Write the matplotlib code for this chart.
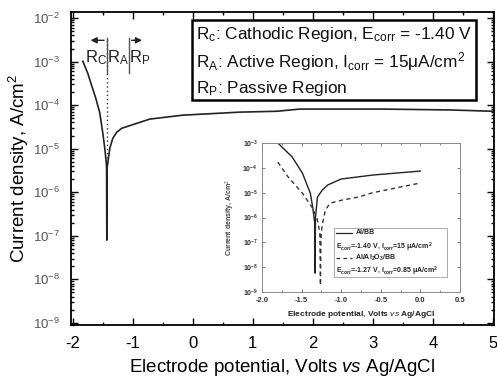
import numpy as np
import matplotlib
matplotlib.use("Agg")
import matplotlib.pyplot as plt
from matplotlib.patches import Rectangle
from matplotlib.lines import Line2D
from matplotlib.ticker import FixedLocator, FixedFormatter, MultipleLocator, LogLocator, NullFormatter

plt.rcParams['font.family'] = ['Liberation Sans', 'DejaVu Sans']
plt.rcParams['mathtext.fontset'] = 'custom'
plt.rcParams['mathtext.rm'] = 'Liberation Sans'
plt.rcParams['mathtext.it'] = 'Liberation Sans:italic'
plt.rcParams['mathtext.bf'] = 'Liberation Sans:bold'
plt.rcParams['axes.unicode_minus'] = False

# ---- main curve (potential V, log10 current density A/cm2) ----
main_E = [-1.833, -1.75, -1.683, -1.617, -1.55, -1.50, -1.467, -1.442, -1.437, -1.433,
          -1.429, -1.417, -1.383, -1.333, -1.267, -1.183, -1.05, -0.717, -0.167,
          0.783, 1.40, 1.783, 3.167, 4.283, 5.0]
main_logi = [-2.99, -3.27, -3.56, -3.84, -4.18, -4.64, -4.99, -5.33, -5.44, -7.10,
             -5.44, -5.33, -4.99, -4.76, -4.62, -4.53, -4.47, -4.32, -4.23,
             -4.16, -4.14, -4.09, -4.09, -4.11, -4.14]

main_xticks = [-2, -1, 0, 1, 2, 3, 4, 5]
main_xticklabels = ['-2', '-1', '0', '1', '2', '3', '4', '5']
main_ydecades = [-9, -8, -7, -6, -5, -4, -3, -2]

# ---- inset curves ----
albb_E = [-1.80, -1.62, -1.49, -1.39, -1.36, -1.335, -1.33, -1.325, -1.30, -1.24,
          -1.17, -1.0, -0.60, 0.0]
albb_logi = [-3.0, -3.56, -4.21, -5.02, -5.58, -6.2, -8.24, -6.0, -5.18, -4.9,
             -4.69, -4.45, -4.29, -4.13]
al2o3_E = [-1.80, -1.67, -1.49, -1.37, -1.31, -1.27, -1.262, -1.255, -1.24, -1.20,
           -1.14, -0.99, -0.79, -0.60, 0.0]
al2o3_logi = [-3.77, -4.37, -5.02, -5.58, -5.98, -6.6, -8.73, -6.8, -6.3, -5.7,
              -5.42, -5.3, -5.18, -5.0, -4.61]
inset_xticks = [-2.0, -1.5, -1.0, -0.5, 0.0, 0.5]
inset_ydecades = [-9, -8, -7, -6, -5, -4, -3]

W, H = 497, 383
fig = plt.figure(figsize=(W / 100, H / 100), dpi=100)

def fx(px):
    return px / W

def fy(py):
    return 1 - py / H

ax = fig.add_axes([fx(71), fy(325), fx(494) - fx(71), fy(12) - fy(325)])
ax.plot(main_E, 10 ** np.array(main_logi), color='#222222', lw=1.2)
ax.set_yscale('log')
ax.set_xlim(-2.03, 5.02)
ax.set_ylim(10 ** -9.05, 10 ** -1.86)
ax.xaxis.set_major_locator(FixedLocator(main_xticks))
ax.xaxis.set_major_formatter(FixedFormatter(main_xticklabels))
ax.xaxis.set_minor_locator(MultipleLocator(0.5))
ax.yaxis.set_major_locator(FixedLocator([10.0 ** d for d in main_ydecades]))
ax.yaxis.set_major_formatter(FixedFormatter(['$10^{%d}$' % d for d in main_ydecades]))
ax.yaxis.set_minor_locator(LogLocator(base=10, subs=np.arange(2, 10)))
ax.yaxis.set_minor_formatter(NullFormatter())
ax.tick_params(which='both', direction='in', top=True, right=True, width=1.0)
ax.tick_params(which='major', length=5)
ax.tick_params(which='minor', length=2.5)
ax.tick_params(axis='x', labelsize=12, pad=8)
ax.tick_params(axis='y', labelsize=9.5, pad=8, labelcolor='#555555')
for s in ax.spines.values():
    s.set_linewidth(1.3)
ax.set_xlabel('Electrode potential, Volts $\\mathit{vs}$ Ag/AgCl', fontsize=13.5, labelpad=4)
ax.set_ylabel('Current density, A/cm$^2$', fontsize=13.5)
ax.yaxis.set_label_coords((31 - 71) / 423, 0.5)

# dotted Ecorr line
ax.plot([-1.433, -1.433], [10 ** -2.51, 10 ** -5.38], color='#333333', lw=1.0, ls=(0, (1, 2)))
# region markers
for xv in [-1.433, -1.067]:
    ax.plot([xv, xv], [10 ** -2.46, 10 ** -3.27], color='#555555', lw=1.0)
ax.annotate('', xy=(-1.75, 10 ** -2.51), xytext=(-1.433, 10 ** -2.51),
            arrowprops=dict(arrowstyle='-|>', color='#222222', lw=1.0, mutation_scale=9))
ax.annotate('', xy=(-0.80, 10 ** -2.51), xytext=(-1.067, 10 ** -2.51),
            arrowprops=dict(arrowstyle='-|>', color='#222222', lw=1.0, mutation_scale=9))
for xc, lab in [(-1.61, 'R$_\\mathrm{C}$'), (-1.25, 'R$_\\mathrm{A}$'), (-0.883, 'R$_\\mathrm{P}$')]:
    ax.text(xc, 10 ** -2.92, lab, fontsize=12, ha='center', va='center', color='#222222')

# text box
fig.patches.append(Rectangle((fx(192), fy(100)), fx(476) - fx(192), fy(20) - fy(100),
                             transform=fig.transFigure, fill=False, ec='black', lw=1.8))
box_lines = ['R$_\\mathrm{c}$: Cathodic Region, E$_\\mathrm{corr}$ = -1.40 V',
             'R$_\\mathrm{A}$: Active Region, I$_\\mathrm{corr}$ = 15\u03bcA/cm$^2$',
             'R$_\\mathrm{P}$: Passive Region']
for py, t in zip([35, 62, 88], box_lines):
    fig.text(fx(196), fy(py), t, fontsize=12.4, ha='left', va='center', color='#111111')

# ---- inset ----
ai = fig.add_axes([fx(262), fy(292), fx(460) - fx(262), fy(143) - fy(292)])
ai.set_facecolor('white')
ai.plot(albb_E, 10 ** np.array(albb_logi), color='#222222', lw=1.0)
ai.plot(al2o3_E, 10 ** np.array(al2o3_logi), color='#333333', lw=1.0, ls=(0, (3, 2.5)))
ai.set_yscale('log')
ai.set_xlim(-2.0, 0.5)
ai.set_ylim(1e-9, 1e-3)
ai.xaxis.set_major_locator(FixedLocator(inset_xticks))
ai.xaxis.set_major_formatter(FixedFormatter(['%.1f' % v for v in inset_xticks]))
ai.xaxis.set_minor_locator(MultipleLocator(0.25))
ai.yaxis.set_major_locator(FixedLocator([10.0 ** d for d in inset_ydecades]))
ai.yaxis.set_major_formatter(FixedFormatter(['$\\mathbf{10^{%d}}$' % d for d in inset_ydecades]))
ai.yaxis.set_minor_locator(LogLocator(base=10, subs=[]))
ai.yaxis.set_minor_formatter(NullFormatter())
ai.tick_params(which='both', direction='in', top=True, right=True, width=0.6, color='#666666')
ai.tick_params(which='major', length=2.5)
ai.tick_params(which='minor', length=1.5)
ai.tick_params(axis='x', labelsize=5.5, labelcolor='#333333', pad=3.5)
ai.tick_params(axis='y', labelsize=5, labelcolor='#333333', pad=3)
for lab in ai.get_xticklabels():
    lab.set_fontweight('bold')
for s in ai.spines.values():
    s.set_linewidth(0.7)
    s.set_color('#888888')
ai.set_xlabel('Electrode potential, Volts $\\mathbf{\\mathit{vs}}$ Ag/AgCl', fontsize=6,
              fontweight='bold', labelpad=4, color='#222222')
ai.set_ylabel('Current density, A/cm$^2$', fontsize=5, fontweight='bold', labelpad=4, color='#444444')

# inset legend (manual)
ai.add_patch(Rectangle((0.365, 0.10), 0.934 - 0.365, 0.43 - 0.10, transform=ai.transAxes,
                       fill=False, ec='#aaaaaa', lw=0.7))
ai.add_line(Line2D([0.376, 0.457], [0.396, 0.396], transform=ai.transAxes, color='#222222', lw=0.9))
ai.add_line(Line2D([0.376, 0.457], [0.228, 0.228], transform=ai.transAxes, color='#333333', lw=0.9,
                   ls=(0, (3, 2.5))))
leg_kw = dict(transform=ai.transAxes, fontsize=5, fontweight='bold', va='center', ha='left', color='#222222')
ai.text(0.472, 0.396, 'Al/BB', **leg_kw)
ai.text(0.376, 0.302, 'E$_\\mathbf{corr}$=-1.40 V, I$_\\mathbf{corr}$=15 \u03bcA/cm$^\\mathbf{2}$', **leg_kw)
ai.text(0.472, 0.228, 'Al/Al$_\\mathbf{2}$O$_\\mathbf{3}$/BB', **leg_kw)
ai.text(0.376, 0.141, 'E$_\\mathbf{corr}$=-1.27 V, I$_\\mathbf{corr}$=0.85 \u03bcA/cm$^\\mathbf{2}$', **leg_kw)

fig.savefig('out.png', dpi=100)
